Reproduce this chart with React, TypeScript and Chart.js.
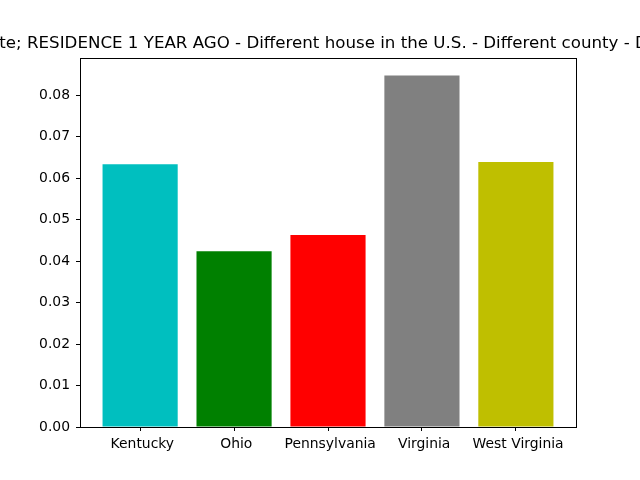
import React, { useEffect, useRef } from "react";
import { Chart, registerables } from "chart.js";

Chart.register(...registerables);

const categories = [" Kentucky", " Ohio", " Pennsylvania", " Virginia", " West Virginia"];
const values = [0.0634, 0.0424, 0.0463, 0.0848, 0.0639];
const colors = ["#00bfbf", "#008000", "#ff0000", "#808080", "#bfbf00"];
const yTicks = [0, 0.01, 0.02, 0.03, 0.04, 0.05, 0.06, 0.07, 0.08];
const titlePrefix = "Percent; Estimate; ";
const titleRest =
  "RESIDENCE 1 YEAR AGO - Different house in the U.S. - Different county - Different state";

const FONT = "'DejaVu Sans', sans-serif";

export default function App() {
  const ref = useRef<HTMLCanvasElement | null>(null);
  useEffect(() => {
    document.body.style.margin = "0";
    const canvas = ref.current!;
    const framePlugin = {
      id: "frame",
      afterDraw(chart: any) {
        const { ctx, chartArea } = chart;
        ctx.save();
        ctx.strokeStyle = "#000";
        ctx.lineWidth = 1;
        ctx.strokeRect(
          Math.round(chartArea.left) + 0.5,
          Math.round(chartArea.top) + 0.5,
          Math.round(chartArea.right - chartArea.left),
          Math.round(chartArea.bottom - chartArea.top)
        );
        ctx.fillStyle = "#000";
        ctx.font = `16.67px ${FONT}`;
        ctx.textAlign = "left";
        ctx.textBaseline = "alphabetic";
        const pw = ctx.measureText(titlePrefix).width;
        ctx.fillText(titlePrefix + titleRest, 27 - pw, 48);
        ctx.restore();
      },
    };
    const chart = new Chart(canvas, {
      type: "bar",
      data: {
        datasets: [
          {
            data: values.map((v, i) => ({ x: i, y: v })),
            backgroundColor: colors,
            borderWidth: 0,
            inflateAmount: 0,
            categoryPercentage: 1,
            barPercentage: 0.8,
          },
        ],
      },
      options: {
        animation: false,
        responsive: false,
        devicePixelRatio: 1,
        layout: { padding: { left: 0, right: 64, top: 58, bottom: 0 } },
        plugins: { legend: { display: false }, title: { display: false }, tooltip: { enabled: false } },
        scales: {
          x: {
            type: "linear",
            offset: false,
            min: -0.64,
            max: 4.64,
            afterBuildTicks: (scale: any) => {
              scale.ticks = categories.map((_, i) => ({ value: i }));
            },
            afterFit: (scale: any) => {
              scale.height = 53;
            },
            ticks: {
              callback: (v: any) => categories[Math.round(Number(v))] ?? "",
              color: "#000",
              font: { family: FONT, size: 13.9 },
              padding: 5,
              maxRotation: 0,
              autoSkip: false,
            },
            grid: {
              drawOnChartArea: false,
              drawTicks: true,
              tickLength: 4,
              color: "#000",
              offset: false,
            },
            border: { display: true, color: "#000" },
          },
          y: {
            min: 0,
            max: 0.089,
            afterBuildTicks: (scale: any) => {
              scale.ticks = yTicks.map((v) => ({ value: v }));
            },
            afterFit: (scale: any) => {
              scale.width = 80;
            },
            ticks: {
              callback: (v: any) => Number(v).toFixed(2),
              color: "#000",
              font: { family: FONT, size: 13.9 },
              padding: 6,
            },
            grid: {
              drawOnChartArea: false,
              drawTicks: true,
              tickLength: 4,
              color: "#000",
            },
            border: { display: true, color: "#000" },
          },
        },
      },
      plugins: [framePlugin],
    });
    return () => chart.destroy();
  }, []);
  return <canvas ref={ref} width={640} height={480} style={{ display: "block" }} />;
}
